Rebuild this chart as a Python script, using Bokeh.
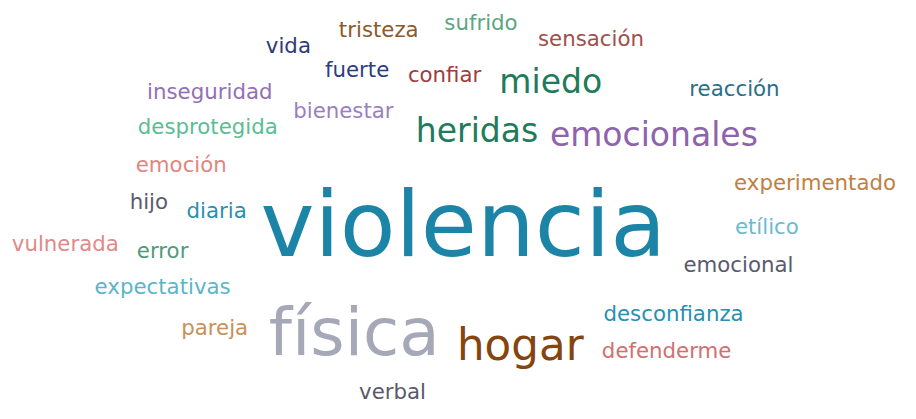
from bokeh.plotting import figure
from bokeh.models import ColumnDataSource, Range1d
from bokeh.core.properties import value
from bokeh.embed import file_html
from bokeh.resources import INLINE

# word cloud data: word, font size (px, from weight), centre x, baseline y (reference px), colour
words = ["violencia", "física", "hogar", "heridas", "emocionales", "miedo",
         "desconfianza", "defenderme", "experimentado", "emocional", "etílico",
         "reacción", "sensación", "tristeza", "sufrido", "vida", "fuerte",
         "confiar", "inseguridad", "bienestar", "desprotegida", "emoción",
         "hijo", "diaria", "vulnerada", "error", "expectativas", "pareja", "verbal"]
sizes = [94, 68, 45, 34, 34, 34,
         22, 22, 22, 22, 22,
         22, 22, 22, 22, 22, 22,
         22, 22, 22, 22, 22,
         22, 22, 22, 22, 22, 22, 22]
xs = [471, 360, 529, 485, 665, 560,
      685, 678, 829, 751, 780,
      747, 601, 385, 489, 293, 363,
      452, 213, 349, 211, 184,
      151, 220, 66, 165, 165, 218, 399]
ys = [267, 370, 374, 148, 152, 97,
      333, 372, 197, 282, 243,
      100, 47, 38, 31, 55, 80,
      85, 103, 122, 139, 178,
      217, 226, 261, 268, 305, 348, 415]
colors = ["#1c84a6", "#a6a8b8", "#84450f", "#207b5a", "#8e63ae", "#207b5a",
          "#2a8fb0", "#d07070", "#c08040", "#5a5a6e", "#6bbbd0",
          "#2a6f86", "#a0504a", "#8b5a2b", "#5aa683", "#2e3a7a", "#2d3e80",
          "#9e3d3d", "#9370b5", "#9b7fbf", "#5bbd93", "#e08780",
          "#5a5a6e", "#2a8fb0", "#e08a8a", "#4f9a78", "#5bb5c8", "#c8905a", "#5a5a6a"]

SCALE = 0.97
font_px = [s * SCALE for s in sizes]
src = ColumnDataSource(dict(word=words,
                            size=[f"{f:.1f}px" for f in font_px],
                            yoff=[-0.36 * f for f in font_px],
                            x=xs, y=ys, color=colors))

p = figure(width=900, height=403, output_backend="svg", toolbar_location=None,
           x_range=Range1d(0, 916), y_range=Range1d(419, 0), min_border=0)
p.axis.visible = False
p.grid.visible = False
p.outline_line_color = None
p.background_fill_color = "white"
p.border_fill_color = "white"

p.text(x="x", y="y", text="word", source=src, text_font_size="size",
       y_offset="yoff",
       text_color="color", text_align="center", text_baseline="alphabetic",
       text_font=value("DejaVu Sans"))

open("out.html", "w").write(file_html(p, INLINE))
